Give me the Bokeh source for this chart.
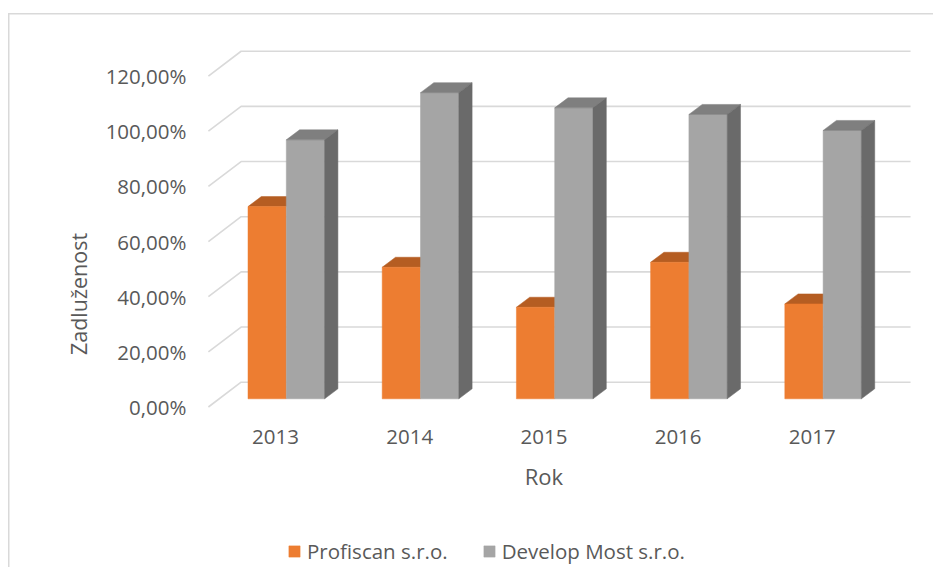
from bokeh.plotting import figure
from bokeh.models import (FixedTicker, Legend, LegendItem,
                          CustomJSTickFormatter, Range1d)
from bokeh.core.properties import value
from bokeh.embed import file_html
from bokeh.resources import INLINE

years = ["2013", "2014", "2015", "2016", "2017"]
profiscan = [69.7, 47.7, 33.2, 49.5, 34.4]
develop = [93.9, 111.0, 105.5, 103.1, 97.3]
y_ticks = [0, 20, 40, 60, 80, 100, 120]
series_names = ["Profiscan s.r.o.", "Develop Most s.r.o."]
x_title = "Rok"
y_title = "Zadluženost"

FONT = "Open Sans"
TXT = "#595959"
TICK_SIZE = "20.5px"
TITLE_SIZE = "21.5px"

# 3D geometry (data units: x in category steps, y in percent)
WALL_DX, WALL_DY = 0.2437, 8.99      # front plane -> back wall
BAR_DX, BAR_DY = 0.0805, 2.97        # front plane -> bar front plane
BW = 0.2854                          # bar width
DEP_DX, DEP_DY = 0.0991, 3.63        # bar depth
GRID_X0, GRID_X1 = -0.5, 4.732
YEAR_Y, TITLE_Y = -10.88, -25.0      # label rows below the floor

p = figure(width=933, height=567, output_backend="svg", toolbar_location=None,
           x_range=Range1d(-0.5589, 4.903), y_range=Range1d(-58.2, 140.14),
           min_border_left=200, min_border_right=0, min_border_top=20,
           min_border_bottom=0)
p.outline_line_color = None
p.border_fill_color = None
p.background_fill_color = None
p.xgrid.visible = False
p.ygrid.visible = False
p.xaxis.visible = False
# light chart-area border on the top and left edges
p.styles = {
    "background-image": "linear-gradient(#d9d9d9, #d9d9d9), linear-gradient(#d9d9d9, #d9d9d9)",
    "background-size": "100% 1.5px, 1.5px 100%",
    "background-position": "8px 13px, 8px 13px",
    "background-repeat": "no-repeat",
}

# gridlines (front diagonal + back wall)
gx, gy = [], []
for t in y_ticks:
    gx.append([GRID_X0, GRID_X0 + WALL_DX, GRID_X1])
    gy.append([t, t + WALL_DY, t + WALL_DY])
p.multi_line(gx, gy, line_color="#d9d9d9", line_width=1.6)

def faces(vals, s):
    fx, fy, tx, ty, sx, sy = [], [], [], [], [], []
    for i, v in enumerate(vals):
        x0 = i + BAR_DX - BW + s * BW
        x1 = x0 + BW
        yb = BAR_DY
        yt = BAR_DY + v
        fx.append([x0, x1, x1, x0]); fy.append([yb, yb, yt, yt])
        tx.append([x0, x1, x1 + DEP_DX, x0 + DEP_DX]); ty.append([yt, yt, yt + DEP_DY, yt + DEP_DY])
        sx.append([x1, x1 + DEP_DX, x1 + DEP_DX, x1]); sy.append([yb, yb + DEP_DY, yt + DEP_DY, yt])
    return fx, fy, tx, ty, sx, sy

ofx, ofy, otx, oty, osx, osy = faces(profiscan, 0)
gfx, gfy, gtx, gty, gsx, gsy = faces(develop, 1)

p.patches(otx, oty, fill_color="#b55d22", line_color="#b55d22", line_width=0.5)
r_or = p.patches(ofx, ofy, fill_color="#ed7d31", line_color="#ed7d31", line_width=0.5)
r_gr = p.patches(gfx, gfy, fill_color="#a5a5a5", line_color="#a5a5a5", line_width=0.5)
p.patches(gtx, gty, fill_color="#7f7f7f", line_color="#7f7f7f", line_width=0.5)
p.patches(gsx, gsy, fill_color="#6a6a6a", line_color="#6a6a6a", line_width=0.5)

# category labels and x title
p.text(x=list(range(len(years))), y=[YEAR_Y] * len(years), text=years,
       text_font=value(FONT), text_font_size=TICK_SIZE, text_color=TXT,
       text_align="center", text_baseline="middle")
p.text(x=[(len(years) - 1) / 2], y=[TITLE_Y], text=[x_title],
       text_font=value(FONT), text_font_size="22px", text_color=TXT,
       text_align="center", text_baseline="middle")

# y axis
ya = p.yaxis[0]
ya.ticker = FixedTicker(ticks=y_ticks)
ya.formatter = CustomJSTickFormatter(code="return tick.toFixed(2).replace('.', ',') + '%';")
ya.axis_line_color = None
ya.major_tick_line_color = None
ya.minor_tick_line_color = None
ya.major_tick_out = 0
ya.major_tick_in = 0
ya.major_label_standoff = 14
ya.major_label_text_font = FONT
ya.major_label_text_font_size = TICK_SIZE
ya.major_label_text_color = TXT
ya.axis_label = y_title
ya.axis_label_text_font = FONT
ya.axis_label_text_font_size = TITLE_SIZE
ya.axis_label_text_font_style = "normal"
ya.axis_label_text_color = TXT
ya.axis_label_standoff = 10

legend = Legend(items=[LegendItem(label=series_names[0], renderers=[r_or]),
                       LegendItem(label=series_names[1], renderers=[r_gr])],
                orientation="horizontal", location=(87, 2),
                glyph_width=14, glyph_height=14, label_standoff=6, spacing=34,
                label_text_font=FONT, label_text_font_size=TICK_SIZE,
                label_text_color=TXT, border_line_color=None,
                background_fill_alpha=0, padding=0, margin=0)
p.add_layout(legend, "center")

open("out.html", "w").write(file_html(p, INLINE))
